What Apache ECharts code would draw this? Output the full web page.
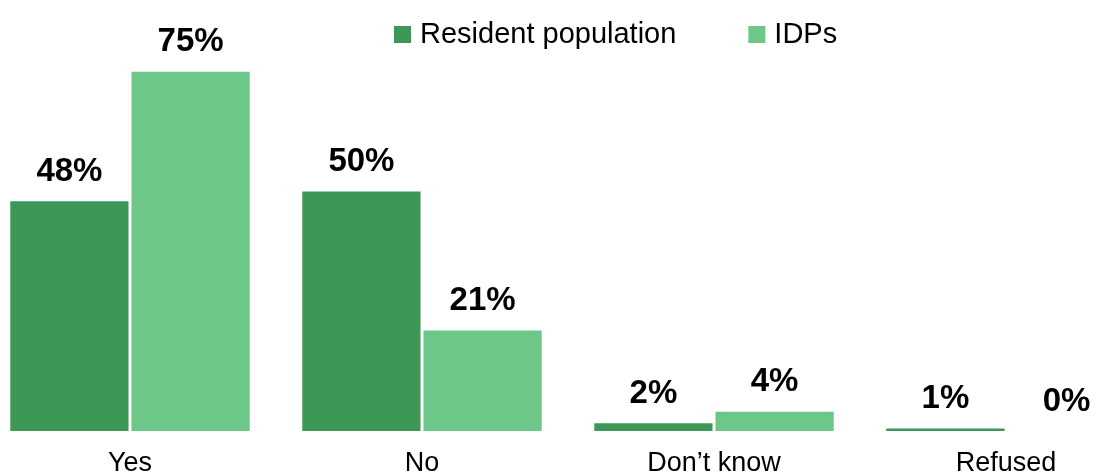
<!DOCTYPE html>
<html>
<head>
<meta charset="utf-8">
<script src="https://cdn.jsdelivr.net/npm/echarts@6/dist/echarts.min.js"></script>
<style>
  html, body { margin: 0; padding: 0; background: #fff; }
  #chart { width: 1096px; height: 474px; }
</style>
</head>
<body>
<div id="chart"></div>
<script>
const categories = ['Yes', 'No', 'Don\u2019t know', 'Refused'];
const residentValues = [48, 50, 1.6, 0.5];
const idpValues = [75, 21, 4, 0];
const seriesNames = ['Resident population', 'IDPs'];

const chart = echarts.init(document.getElementById('chart'));

const labelStyle = {
  show: true,
  position: 'top',
  distance: 13,
  fontFamily: 'Liberation Sans, Arial, sans-serif',
  fontWeight: 'bold',
  fontSize: 33,
  color: '#000',
  formatter: (p) => Math.round(p.value) + '%'
};

const option = {
  animation: false,
  textStyle: { fontFamily: 'Liberation Sans, Arial, sans-serif' },
  legend: {
    left: 389,
    top: 15,
    itemWidth: 17,
    itemHeight: 17,
    itemGap: 72,
    icon: 'rect',
    textStyle: { fontSize: 29, color: '#000', padding: [0, 0, 0, 4] },
    data: seriesNames
  },
  grid: {
    // the plot runs past the right edge of the picture
    outerBoundsMode: 'none',
    left: -16,
    top: 0,
    width: 1168,
    height: 431
  },
  xAxis: {
    type: 'category',
    data: categories,
    axisLine: { show: false },
    axisTick: { show: false },
    axisLabel: { fontSize: 27, color: '#000', margin: 19, interval: 0 }
  },
  yAxis: {
    type: 'value',
    min: 0,
    max: 90,
    show: false,
    splitLine: { show: false }
  },
  series: [
    {
      name: seriesNames[0],
      type: 'bar',
      data: residentValues,
      barGap: '2.5%',
      barCategoryGap: '18%',
      itemStyle: { color: '#3d9857' },
      label: labelStyle
    },
    {
      name: seriesNames[1],
      type: 'bar',
      data: idpValues,
      itemStyle: { color: '#6cc788' },
      label: labelStyle
    }
  ]
};

chart.setOption(option);
</script>
</body>
</html>
